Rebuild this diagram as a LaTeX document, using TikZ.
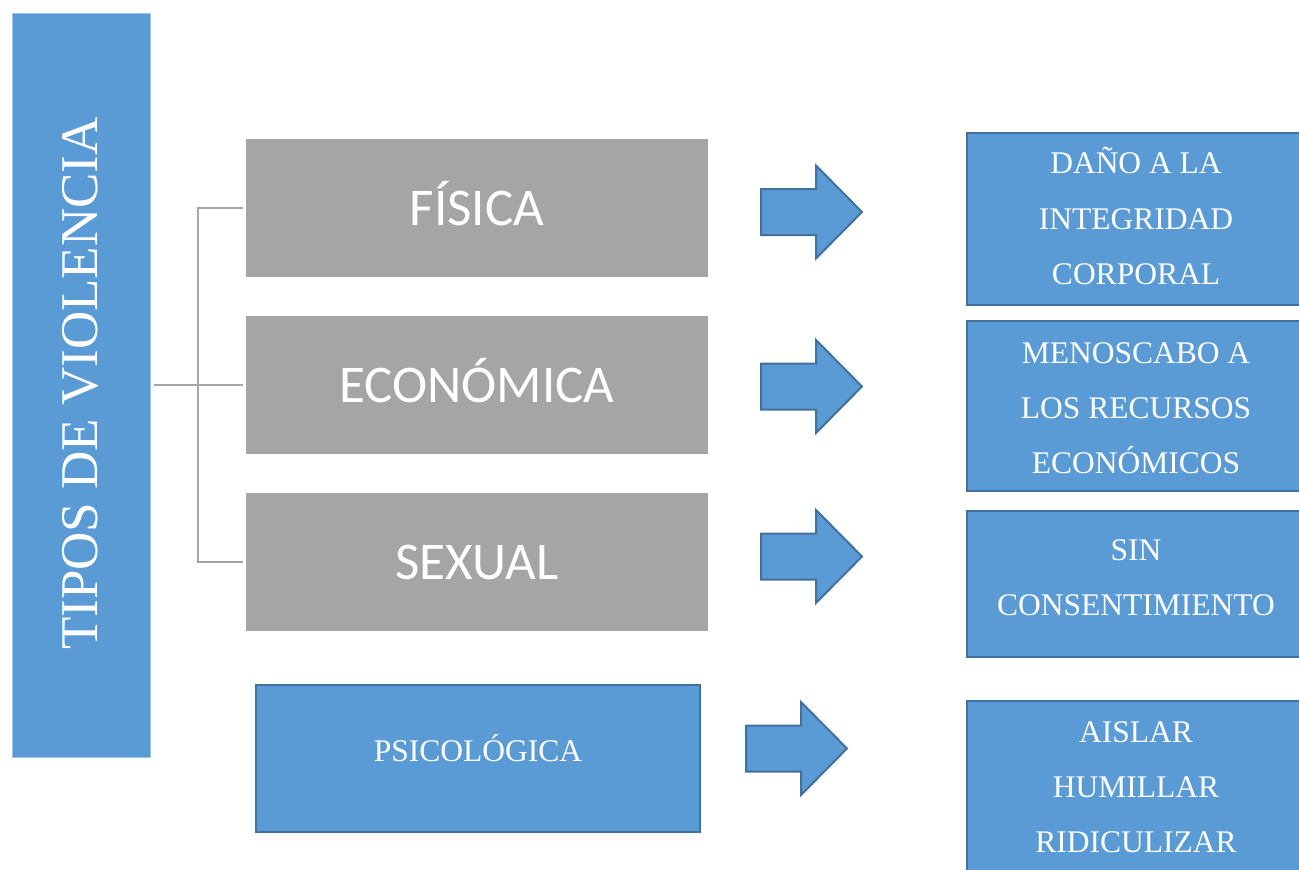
\documentclass[tikz,border=0pt]{standalone}
\usepackage{fontspec}
\setmainfont{Liberation Serif}
\newfontfamily\calib{Carlito}
\definecolor{accblue}{HTML}{5B9BD5}
\definecolor{accborder}{HTML}{41719C}
\definecolor{accgray}{HTML}{A5A5A5}
\definecolor{lightedge}{HTML}{9DC3E6}
\tikzset{
  bluebox/.style={draw=accborder, line width=2.5pt, fill=accblue, inner sep=0pt},
  graybox/.style={fill=accgray, inner sep=0pt, text=white, minimum width=462pt, minimum height=138pt,
    text height=34pt, text depth=0pt, font=\calib\fontsize{53}{63}\selectfont},
  wtext/.style={text=white, inner sep=0pt, anchor=base, font=\fontsize{31.5}{38}\selectfont},
  conn/.style={draw=accgray, line width=2.2pt, shorten <=3pt, shorten >=3pt},
  blockarrow/.style={fill=accblue, draw=accborder, line width=2pt, line join=miter},
  barrow/.pic={\path[blockarrow] (0,-23) -- (55,-23) -- (55,-46.5) -- (101,0) -- (55,46.5) -- (55,23) -- (0,23) -- cycle;}
}
\begin{document}
\begin{tikzpicture}[x=1pt,y=1pt]
\useasboundingbox (0,0) rectangle (1299,-870);
% left title box
\node[fill=accblue, draw=lightedge, line width=1pt, inner sep=0pt, minimum width=138pt, minimum height=744pt] (tipos) at (81,-385) {};
\node[text=white, inner sep=0pt, rotate=90, anchor=base, font=\fontsize{53}{60}\selectfont] (tiposT) at (97,-383.5) {TIPOS DE VIOLENCIA};
% gray boxes
\node[graybox] (fis) at (477,-208) {FÍSICA};
\node[graybox] (eco) at (477,-385) {ECONÓMICA};
\node[graybox] (sex) at (477,-562) {SEXUAL};
% connectors
\coordinate (j) at (198,-385);
\draw[conn] (fis.west) -| (j) |- (sex.west);
\draw[conn] (tipos.east) -- (eco.west);
% psicologica
\node[bluebox, minimum width=444pt, minimum height=147pt] (psi) at (478,-758.5) {};
\node[wtext] (psiT) at (478,-761) {PSICOLÓGICA};
% arrows
\pic (a1) at (761,-212) {barrow};
\pic (a2) at (761,-386.5) {barrow};
\pic (a3) at (761,-556.5) {barrow};
\pic (a4) at (746,-748.5) {barrow};
% right boxes
\node[bluebox, minimum width=338pt, minimum height=172pt] (r1) at (1136,-219) {};
\node[bluebox, minimum width=338pt, minimum height=170pt] (r2) at (1136,-406) {};
\node[bluebox, minimum width=338pt, minimum height=146pt] (r3) at (1136,-584) {};
\node[bluebox, minimum width=338pt, minimum height=180pt] (r4) at (1136,-791) {};
\node[wtext] (r1a) at (1136,-173) {DAÑO A LA};
\node[wtext] (r1b) at (1136,-229) {INTEGRIDAD};
\node[wtext] (r1c) at (1136,-284) {CORPORAL};
\node[wtext] (r2a) at (1136,-363) {MENOSCABO A};
\node[wtext] (r2b) at (1136,-418) {LOS RECURSOS};
\node[wtext] (r2c) at (1136,-473) {ECONÓMICOS};
\node[wtext] (r3a) at (1136,-560) {SIN};
\node[wtext] (r3b) at (1136,-615) {CONSENTIMIENTO};
\node[wtext] (r4a) at (1136,-742) {AISLAR};
\node[wtext] (r4b) at (1136,-797) {HUMILLAR};
\node[wtext] (r4c) at (1136,-852) {RIDICULIZAR};
\end{tikzpicture}
\end{document}
